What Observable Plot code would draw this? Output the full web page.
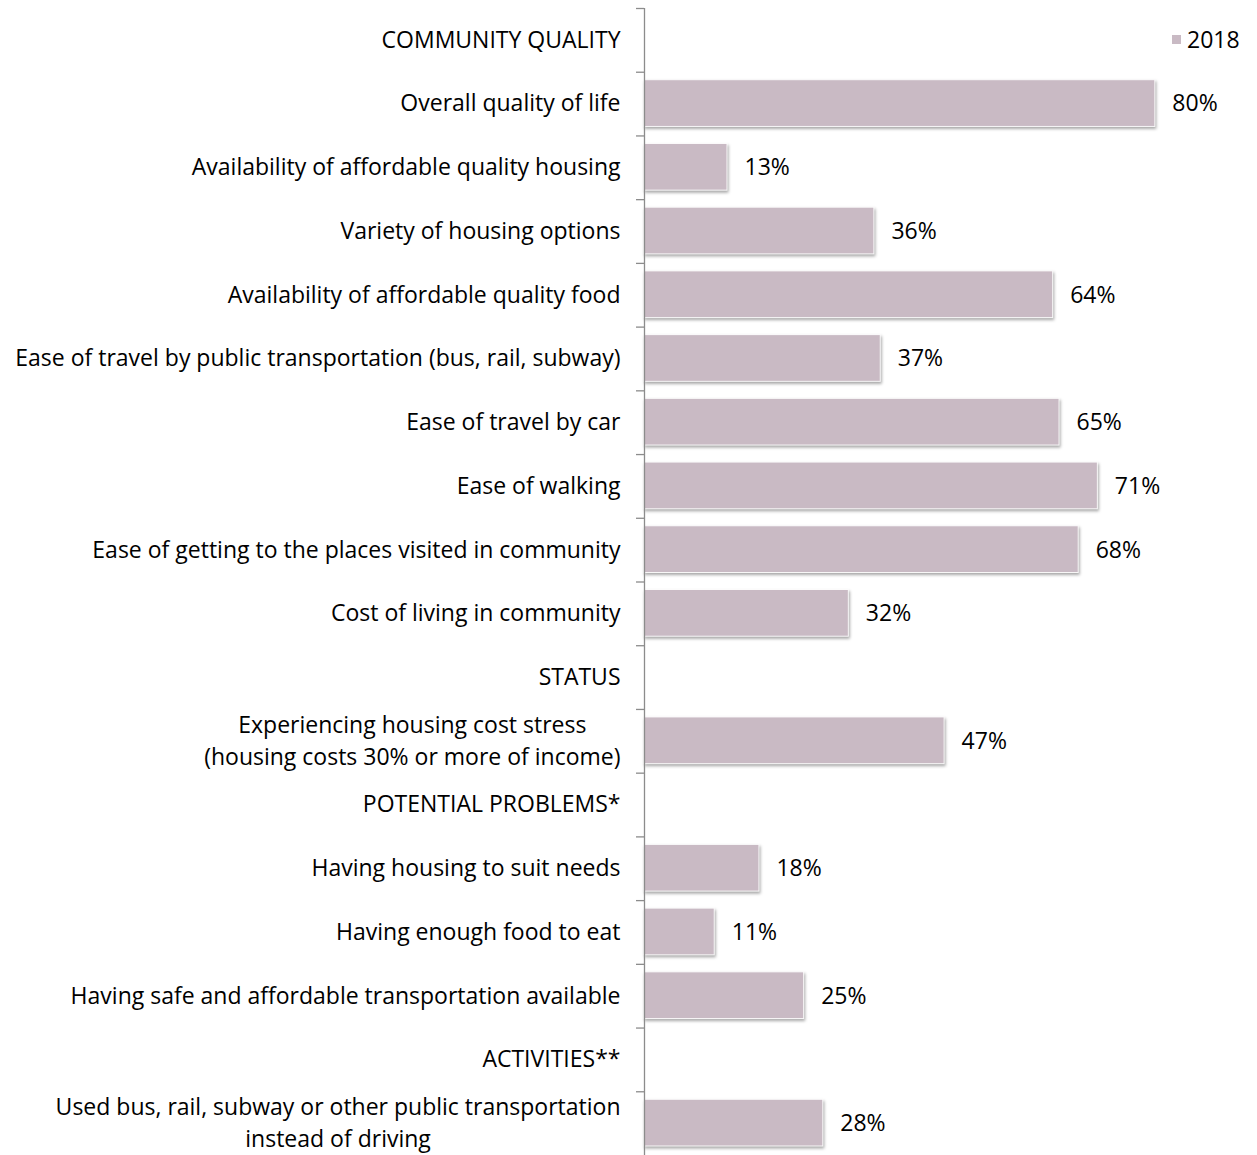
<!DOCTYPE html>
<html><head><meta charset="utf-8">
<script src="https://cdn.jsdelivr.net/npm/d3@7"></script>
<script src="https://cdn.jsdelivr.net/npm/@observablehq/plot@0.6"></script>
<style>
body{margin:0;background:#fff;font-family:"Open Sans",sans-serif;overflow:hidden;}
#wrap{position:relative;width:1257px;height:1155px;}
.legend{position:absolute;top:23px;left:1172px;font:23px "Open Sans";display:flex;align-items:center;gap:6px;color:#000}
.legend .sw{width:9px;height:9px;background:#c9bac4}
.bars rect{filter:drop-shadow(1.5px 2px 1.5px rgba(0,0,0,0.35));}
</style></head><body><div id="wrap"></div>
<script>
const categories = [
  "COMMUNITY QUALITY",
  "Overall quality of life",
  "Availability of affordable quality housing",
  "Variety of housing options",
  "Availability of affordable quality food",
  "Ease of travel by public transportation (bus, rail, subway)",
  "Ease of travel by car",
  "Ease of walking",
  "Ease of getting to the places visited in community",
  "Cost of living in community",
  "STATUS",
  "Experiencing housing cost stress\n(housing costs 30% or more of income)",
  "POTENTIAL PROBLEMS*",
  "Having housing to suit needs",
  "Having enough food to eat",
  "Having safe and affordable transportation available",
  "ACTIVITIES**",
  "Used bus, rail, subway or other public transportation\ninstead of driving"
];
const values = [null, 80, 13, 36, 64, 37, 65, 71, 68, 32, null, 47, null, 18, 11, 25, null, 28];
const seriesName = "2018";
const xMax = 96;

const W = 1257, H = 1155, mT = 8, mB = 0, mL = 644, mR = 0;
const step = (H - mT - mB) / categories.length;
const FS = 23;
const FAMILY = "Open Sans";
const FONT = FS + "px '" + FAMILY + "'";
const ctx = document.createElement("canvas").getContext("2d");
ctx.font = FONT;
const lineH = 32;
const barColor = "#c9bac4";
const txt = "#000";

const rows = categories.map((c, i) => ({key: c, value: values[i]}));
const singles = rows.filter(r => !r.key.includes("\n"));
const multiMarks = [];
rows.filter(r => r.key.includes("\n")).forEach(r => {
  const lines = r.key.split("\n");
  const w = Math.max(...lines.map(l => ctx.measureText(l).width));
  lines.forEach((l, j) => {
    multiMarks.push(Plot.text([r], {
      x: () => 0, y: "key", text: () => l, textAnchor: "middle",
      dx: -24 - w / 2, dy: (j - (lines.length - 1) / 2) * lineH,
      fontSize: FS, fill: txt
    }));
  });
});

const chart = Plot.plot({
  width: W, height: H,
  marginTop: mT, marginBottom: mB, marginLeft: mL, marginRight: mR,
  style: {fontFamily: FAMILY, fontSize: FS + "px", color: txt, background: "#fff"},
  x: {domain: [0, xMax], axis: null},
  y: {domain: categories, padding: 0, round: false, axis: null},
  marks: [
    Plot.barX(rows.filter(r => r.value != null), {
      x: "value", y: "key", fill: barColor, insetTop: 8, insetBottom: 9,
      stroke: "#fff", strokeWidth: 1, strokeOpacity: 0.9, className: "bars"
    }),
    Plot.ruleX([0], {stroke: "#8c8c8c", strokeWidth: 1.3}),
    Plot.ruleY(categories, {y: d => d, x1: 0, x2: 0, insetLeft: -8, dy: -step / 2, stroke: "#8c8c8c", strokeWidth: 1.3}),
    Plot.text(singles, {x: () => 0, y: "key", text: "key", textAnchor: "end", dx: -24, fontSize: FS, fill: txt}),
    ...multiMarks,
    Plot.text(rows.filter(r => r.value != null), {
      x: "value", y: "key", text: d => d.value + "%", textAnchor: "start", dx: 17, fontSize: FS, fill: txt
    })
  ]
});
const wrap = document.getElementById("wrap");
wrap.appendChild(chart);
const lg = document.createElement("div");
lg.className = "legend";
lg.innerHTML = `<span class="sw"></span><span>${seriesName}</span>`;
wrap.appendChild(lg);
</script>
</body></html>
